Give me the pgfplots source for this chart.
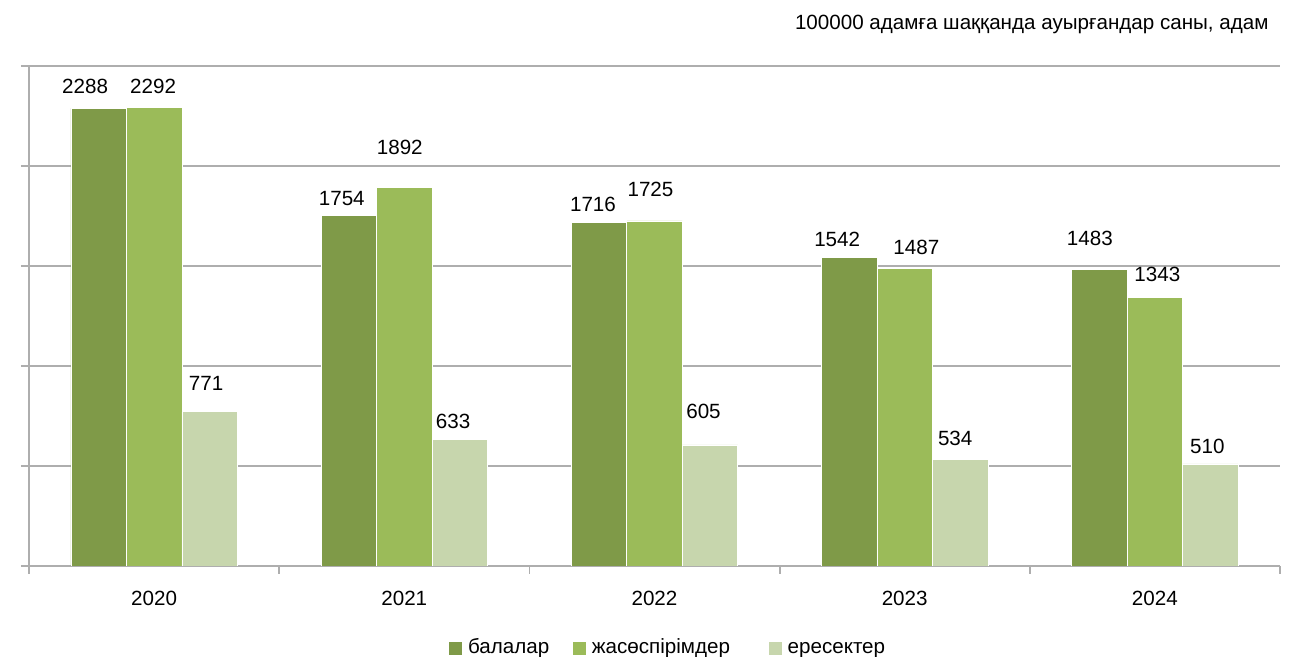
\documentclass[border=0pt]{standalone}
\usepackage{pgfplots}
\pgfplotsset{compat=1.18}
\usepackage{pgfplotstable}
\usepackage{fontspec}
\setmainfont{Liberation Sans}
\definecolor{cDark}{HTML}{7F9A48}
\definecolor{cMid}{HTML}{9BBB59}
\definecolor{cLight}{HTML}{C7D6AD}
\definecolor{gridg}{HTML}{AEAEAE}

\pgfplotstableread{
x y dx dy
0 2288 -6.75 10.9
1 1754 -3.5 8.25
2 1716 -3 9.25
3 1542 -6 9.15
4 1483 -4.75 15.65
}\balalar
\pgfplotstableread{
x y dx dy
0 2292 -0.5 10.5
1 1892 -2.25 20
2 1725 -2 16
3 1487 5.85 10.35
4 1343 1.25 11.25
}\jasospirim
\pgfplotstableread{
x y dx dy
0 771 -1.75 14
1 633 -3.35 8.75
2 605 -3.25 16.9
3 534 -2.5 10.25
4 510 -1.5 8.75
}\eresekter

\begin{document}
\fontsize{10.3}{12.4}\selectfont
\begin{tikzpicture}
\useasboundingbox (0,0) rectangle (648pt,328.5pt);
\begin{axis}[
  at={(14.5pt,45.5pt)}, anchor=south west,
  scale only axis, width=625.5pt, height=250pt,
  ybar=0pt, bar width=27.75pt,
  xmin=-0.5, xmax=4.5, ymin=0, ymax=2500,
  xtick={0,1,2,3,4},
  xticklabels={2020,2021,2022,2023,2024},
  minor xtick={-0.5,0.5,1.5,2.5,3.5,4.5},
  ytick={0,500,1000,1500,2000,2500},
  yticklabels={},
  ymajorgrids,
  grid style={gridg, line width=0.9pt},
  axis x line*=bottom, axis y line*=left,
  axis line style={-, gridg, line width=0.9pt},
  tick align=outside,
  major tick length=4pt, minor tick length=4pt,
  major x tick style={draw=none},
  minor x tick style={gridg, line width=0.9pt},
  major y tick style={gridg, line width=0.9pt},
  ytick pos=left, xtick pos=bottom,
  xticklabel style={anchor=center, yshift=-12pt, font=\fontsize{10.3}{12.4}\selectfont},
  /pgf/number format/.cd, 1000 sep={}, assume math mode=true, /pgfplots/.cd,
  nodes near coords,
  every node near coord/.append style={anchor=center, xshift=\dx, yshift=\dy, font=\fontsize{10.3}{12.4}\selectfont, text=black},
  legend columns=3,
  legend image code/.code={\fill[#1] (0pt,-3.5pt) rectangle (7pt,3.5pt);},
  legend style={draw=none, fill=none, at={(axis description cs:0.5108,-0.164)}, anchor=center,
    font=\fontsize{10.3}{12.4}\selectfont, inner sep=0pt,
    /tikz/every odd column/.append style={column sep=1.3pt},
    /tikz/column 2/.style={column sep=10.3pt},
    /tikz/column 4/.style={column sep=17.8pt},
    nodes={inner sep=1.2pt, text height=7.6pt, text depth=2.1pt, anchor=west}},
  title={100000 адамға шаққанда ауырғандар саны, адам},
  title style={at={(axis description cs:1,1)}, anchor=east, yshift=15pt, xshift=-5.5pt, inner sep=0pt, font=\fontsize{10.3}{12.4}\selectfont},
]
\addplot[fill=cDark, draw=white, line width=0.3pt,
  visualization depends on={\thisrow{dx} \as \dx},
  visualization depends on={\thisrow{dy} \as \dy}] table[x=x,y=y] {\balalar};
\addplot[fill=cMid, draw=white, line width=0.3pt,
  visualization depends on={\thisrow{dx} \as \dx},
  visualization depends on={\thisrow{dy} \as \dy}] table[x=x,y=y] {\jasospirim};
\addplot[fill=cLight, draw=white, line width=0.3pt,
  visualization depends on={\thisrow{dx} \as \dx},
  visualization depends on={\thisrow{dy} \as \dy}] table[x=x,y=y] {\eresekter};
\legend{балалар, жасөспірімдер, ересектер}
\end{axis}
\end{tikzpicture}
\end{document}
